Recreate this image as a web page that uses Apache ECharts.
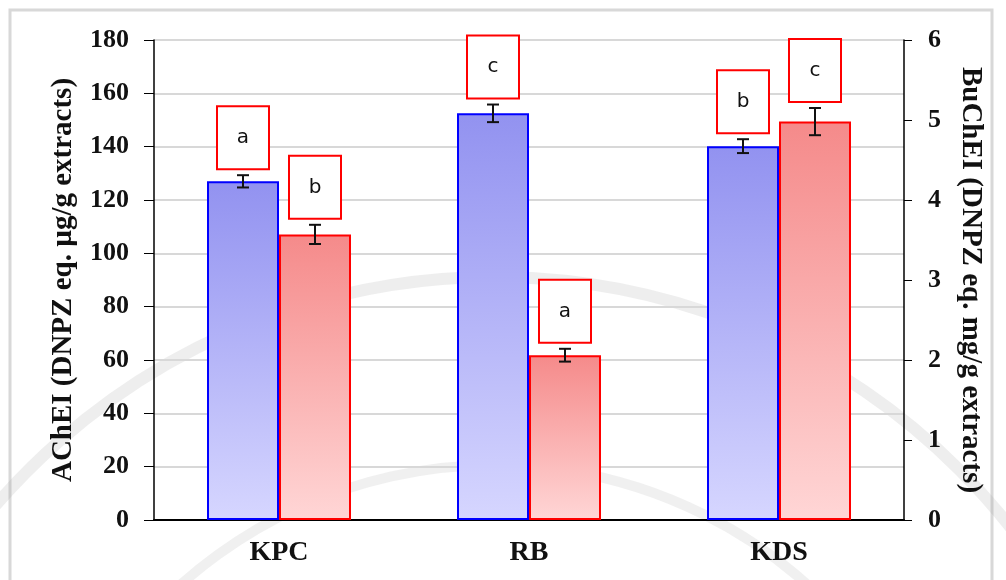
<!DOCTYPE html>
<html>
<head>
<meta charset="utf-8">
<script src="https://cdn.jsdelivr.net/npm/echarts@6/dist/echarts.min.js"></script>
<style>
  html, body { margin: 0; padding: 0; background: #ffffff; }
  #chart { width: 1006px; height: 580px; }
</style>
</head>
<body>
<div id="chart"></div>
<script>
// Extract groups on the x axis
const categories = ['KPC', 'RB', 'KDS'];

// AChEI activity (left axis, DNPZ eq. µg/g extracts), mean ± SD and letter groups
const acheiValues = [127, 152.5, 140.2];
const acheiErrors = [2.3, 3.3, 2.6];
const acheiLetters = ['a', 'c', 'b'];

// BuChEI activity (right axis, DNPZ eq. mg/g extracts), mean ± SD and letter groups
const bucheiValues = [3.57, 2.06, 4.98];
const bucheiErrors = [0.12, 0.08, 0.17];
const bucheiLetters = ['b', 'a', 'c'];

// Axis ranges
const leftAxisRange = { min: 0, max: 180, interval: 20 };
const rightAxisRange = { min: 0, max: 6, interval: 1 };

const BAR_FRACTION = 0.288;        // width of one bar as a share of the category band
const SERIF = 'Liberation Serif';

const chart = echarts.init(document.getElementById('chart'), null, { renderer: 'canvas' });

// Error bar plus a boxed significance letter above it
function makeErrorRenderer(values, errors, letters, side) {
  return function (params, api) {
    const i = api.value(0);
    const band = api.size([1, 0])[0];
    const center = api.coord([i, 0]);
    const cx = center[0] + side * band * BAR_FRACTION / 2;
    const top = api.coord([i, values[i] + errors[i]])[1];
    const bottom = api.coord([i, values[i] - errors[i]])[1];
    const cap = 6;
    const lineStyle = { stroke: '#111111', lineWidth: 2 };
    const boxW = 52, boxH = 63, gap = 6;
    const boxBottom = top - gap;
    return {
      type: 'group',
      children: [
        { type: 'line', shape: { x1: cx, y1: top, x2: cx, y2: bottom }, style: lineStyle },
        { type: 'line', shape: { x1: cx - cap, y1: top, x2: cx + cap, y2: top }, style: lineStyle },
        { type: 'line', shape: { x1: cx - cap, y1: bottom, x2: cx + cap, y2: bottom }, style: lineStyle },
        {
          type: 'rect',
          shape: { x: cx - boxW / 2, y: boxBottom - boxH, width: boxW, height: boxH },
          style: { fill: '#ffffff', stroke: '#ff0000', lineWidth: 2 }
        },
        {
          type: 'text',
          x: cx, y: boxBottom - boxH / 2,
          style: {
            text: letters[i], fill: '#111111',
            font: '20px "DejaVu Sans", Verdana, sans-serif',
            align: 'center', verticalAlign: 'middle'
          }
        }
      ]
    };
  };
}

const blueFill = new echarts.graphic.LinearGradient(0, 0, 0, 1, [
  { offset: 0, color: 'rgb(146,146,240)' },
  { offset: 1, color: 'rgb(214,214,255)' }
]);
const redFill = new echarts.graphic.LinearGradient(0, 0, 0, 1, [
  { offset: 0, color: 'rgb(245,138,138)' },
  { offset: 1, color: 'rgb(255,214,214)' }
]);

const option = {
  backgroundColor: '#ffffff',
  animation: false,
  graphic: [
    // faint outer frame of the figure
    {
      type: 'rect', z: -10, silent: true,
      shape: { x: 10, y: 10, width: 982, height: 600 },
      style: { fill: 'none', stroke: '#d8d8d8', lineWidth: 3 }
    },
    // faint seal arcs in the background
    {
      type: 'arc', z: -5, silent: true,
      shape: { cx: 494, cy: 935, r: 658, startAngle: Math.PI * 1.02, endAngle: Math.PI * 1.98 },
      style: { stroke: 'rgba(150,150,150,0.16)', lineWidth: 12, fill: 'none' }
    },
    {
      type: 'arc', z: -5, silent: true,
      shape: { cx: 494, cy: 935, r: 470, startAngle: Math.PI * 1.05, endAngle: Math.PI * 1.95 },
      style: { stroke: 'rgba(150,150,150,0.14)', lineWidth: 10, fill: 'none' }
    }
  ],
  grid: { left: 154, right: 102, top: 40, bottom: 60, containLabel: false },
  xAxis: {
    type: 'category',
    data: categories,
    axisLine: { lineStyle: { color: '#000000', width: 2 } },
    axisTick: { show: false },
    axisLabel: { color: '#111111', fontFamily: SERIF, fontWeight: 'bold', fontSize: 28, margin: 19 },
    splitLine: { show: false }
  },
  yAxis: [
    {
      type: 'value',
      position: 'left',
      min: leftAxisRange.min, max: leftAxisRange.max, interval: leftAxisRange.interval,
      name: 'AChEI (DNPZ eq. µg/g extracts)',
      nameLocation: 'middle',
      nameGap: 76,
      nameRotate: 90,
      nameTextStyle: { color: '#111111', fontFamily: SERIF, fontWeight: 'bold', fontSize: 29 },
      axisLine: { show: true, lineStyle: { color: '#000000', width: 1.5 } },
      axisTick: { show: true, inside: false, length: 10, lineStyle: { color: '#000000', width: 1 } },
      axisLabel: { color: '#111111', fontFamily: SERIF, fontWeight: 'bold', fontSize: 26, margin: 25 },
      splitLine: { show: true, lineStyle: { color: '#d8d8d8', width: 2 } }
    },
    {
      type: 'value',
      position: 'right',
      min: rightAxisRange.min, max: rightAxisRange.max, interval: rightAxisRange.interval,
      name: 'BuChEI (DNPZ eq. mg/g extracts)',
      nameLocation: 'middle',
      nameGap: 52,
      nameRotate: -90,
      nameTextStyle: { color: '#111111', fontFamily: SERIF, fontWeight: 'bold', fontSize: 29 },
      axisLine: { show: true, lineStyle: { color: '#000000', width: 1.5 } },
      axisTick: { show: true, inside: false, length: 8, lineStyle: { color: '#000000', width: 1 } },
      axisLabel: { color: '#111111', fontFamily: SERIF, fontWeight: 'bold', fontSize: 26, margin: 24 },
      splitLine: { show: false }
    }
  ],
  series: [
    {
      name: 'AChEI',
      type: 'bar',
      yAxisIndex: 0,
      data: acheiValues,
      barWidth: (BAR_FRACTION * 100) + '%',
      barGap: '0%',
      itemStyle: { color: blueFill, borderColor: '#0000ff', borderWidth: 2 }
    },
    {
      name: 'BuChEI',
      type: 'bar',
      yAxisIndex: 1,
      data: bucheiValues,
      barWidth: (BAR_FRACTION * 100) + '%',
      barGap: '0%',
      itemStyle: { color: redFill, borderColor: '#ff0000', borderWidth: 2 }
    },
    {
      name: 'AChEI error',
      type: 'custom',
      yAxisIndex: 0,
      z: 5,
      data: categories.map((c, i) => [i, acheiValues[i]]),
      renderItem: makeErrorRenderer(acheiValues, acheiErrors, acheiLetters, -1)
    },
    {
      name: 'BuChEI error',
      type: 'custom',
      yAxisIndex: 1,
      z: 5,
      data: categories.map((c, i) => [i, bucheiValues[i]]),
      renderItem: makeErrorRenderer(bucheiValues, bucheiErrors, bucheiLetters, 1)
    }
  ]
};

chart.setOption(option);
</script>
</body>
</html>
